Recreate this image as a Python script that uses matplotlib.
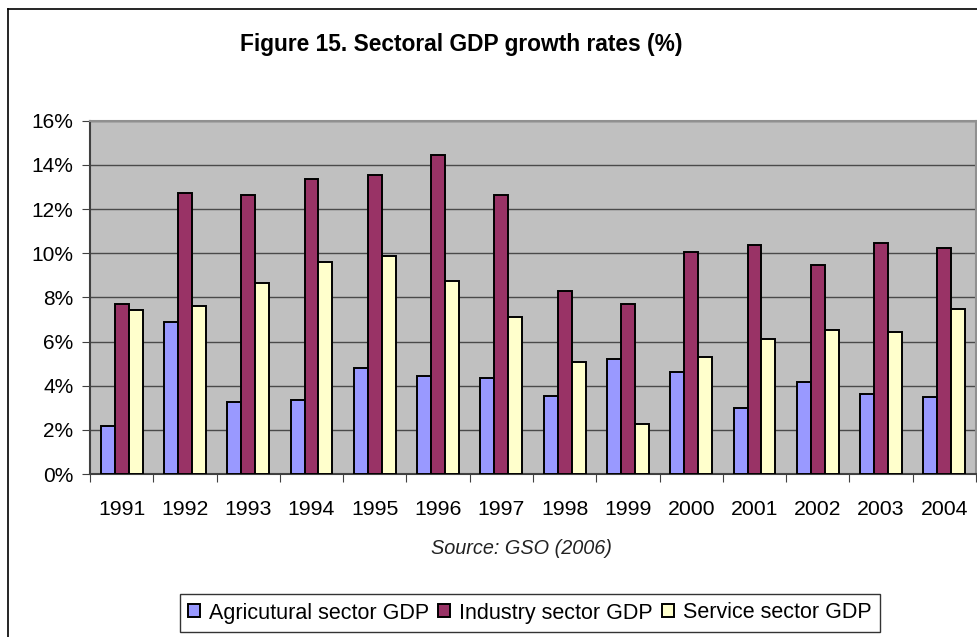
import matplotlib
matplotlib.use("Agg")
import matplotlib.pyplot as plt
import numpy as np
from matplotlib.lines import Line2D

years = ["1991", "1992", "1993", "1994", "1995", "1996", "1997", "1998", "1999",
         "2000", "2001", "2002", "2003", "2004"]
agri = [2.16, 6.87, 3.24, 3.33, 4.78, 4.42, 4.33, 3.51, 5.23, 4.63, 2.98, 4.17, 3.62, 3.50]
industry = [7.68, 12.74, 12.65, 13.38, 13.56, 14.46, 12.65, 8.31, 7.68, 10.07, 10.39, 9.48, 10.48, 10.22]
service = [7.41, 7.59, 8.67, 9.58, 9.85, 8.76, 7.13, 5.05, 2.25, 5.32, 6.10, 6.54, 6.45, 7.47]
series_names = ["Agricutural sector GDP", "Industry sector GDP", "Service sector GDP"]
colors = ["#9999FF", "#993366", "#FFFFCC"]
yticks = [0, 2, 4, 6, 8, 10, 12, 14, 16]

plt.rcParams['font.family'] = ['Liberation Sans', 'DejaVu Sans']

W, H = 977, 637
fig = plt.figure(figsize=(W / 100, H / 100), dpi=100)

# outer chart frame (left and top visible)
fig.add_artist(Line2D([8 / W, 8 / W], [0, 1 - 9 / H], color="black", lw=1.2, transform=fig.transFigure))
fig.add_artist(Line2D([8 / W, 1], [1 - 9 / H, 1 - 9 / H], color="black", lw=1.2, transform=fig.transFigure))

left, right, top, bottom = 90, 976, 120.7, 474
ax = fig.add_axes([left / W, 1 - bottom / H, (right - left) / W, (bottom - top) / H])
ax.set_facecolor("#C0C0C0")

x = np.arange(len(years))
bw = 0.22
for i, (vals, c) in enumerate(zip([agri, industry, service], colors)):
    ax.bar(x + (i - 1) * bw, vals, width=bw, color=c, edgecolor="black", linewidth=1.4,
           label=series_names[i], zorder=3)

ax.set_xlim(-0.5, len(years) - 0.5)
ax.set_ylim(0, 16)
ax.set_yticks(yticks)
ax.set_yticklabels([f"{v}%" for v in yticks], fontsize=15)
ax.yaxis.grid(True, color="#4a4a4a", linewidth=1.0, zorder=1)
ax.set_axisbelow(True)

ax.set_xticks(np.arange(-0.5, len(years), 1.0))
ax.set_xticklabels([])
ax.set_xticks(x, minor=True)
ax.set_xticklabels(years, minor=True, fontsize=15.3)
ax.tick_params(axis="x", which="minor", length=0, pad=19)
ax.tick_params(axis="x", which="major", length=6, direction="out", color="#404040")
ax.tick_params(axis="y", length=6, direction="out", color="#404040", pad=6)

for s in ["top", "right"]:
    ax.spines[s].set_color("#909090")
    ax.spines[s].set_linewidth(1.5)
for s in ["left", "bottom"]:
    ax.spines[s].set_color("#404040")
    ax.spines[s].set_linewidth(1.5)

fig.text(0.5 * (240 + 683) / W, 1 - 45 / H, "Figure 15. Sectoral GDP growth rates (%)",
         fontsize=16.4, fontweight="bold", ha="center", va="center")
fig.text(521 / W, 1 - 548 / H, "Source: GSO (2006)", fontsize=14.3, style="italic",
         ha="center", va="center", color="#222222")

leg = fig.legend(loc="center", bbox_to_anchor=(530 / W, 1 - 613 / H), ncol=3, fontsize=15.5,
                 frameon=True, fancybox=False, edgecolor="black", handlelength=0.56,
                 handleheight=0.56, handletextpad=0.42, columnspacing=0.42, borderpad=0.4,
                 borderaxespad=0)
leg.get_frame().set_linewidth(1.0)

fig.savefig("out.png", dpi=100, facecolor="white")
